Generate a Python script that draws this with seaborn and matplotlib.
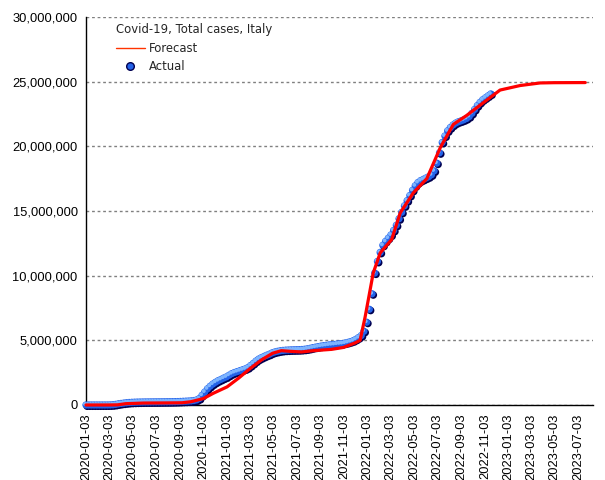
import matplotlib
matplotlib.use("Agg")
import matplotlib.pyplot as plt
import matplotlib.transforms as mtransforms
from matplotlib.lines import Line2D
from matplotlib.ticker import FuncFormatter
import pandas as pd
import seaborn as sns

# weekly actual totals (millions), starting 2020-01-03
actual_start = "2020-01-03"
actual_mln = [
    0, 0, 0, 0, 0, 0, 0, 0, 0.001, 0.005,
    0.018, 0.047, 0.086, 0.12, 0.147, 0.172, 0.193, 0.207, 0.217, 0.224,
    0.228, 0.232, 0.235, 0.236, 0.238, 0.240, 0.241, 0.242, 0.244, 0.246,
    0.248, 0.250, 0.253, 0.258, 0.265, 0.274, 0.284, 0.295, 0.306, 0.317,
    0.344, 0.392, 0.50, 0.75, 1.00, 1.25, 1.45, 1.62, 1.76, 1.88,
    1.98, 2.08, 2.17, 2.30, 2.42, 2.51, 2.58, 2.65, 2.72, 2.79,
    2.89, 3.05, 3.22, 3.40, 3.55, 3.66, 3.76, 3.85, 3.93, 4.03,
    4.10, 4.15, 4.19, 4.22, 4.24, 4.25, 4.26, 4.265, 4.27, 4.275,
    4.29, 4.31, 4.34, 4.38, 4.43, 4.47, 4.51, 4.55, 4.58, 4.61,
    4.64, 4.66, 4.68, 4.71, 4.73, 4.75, 4.79, 4.84, 4.90, 4.97,
    5.08, 5.21, 5.37, 5.70, 6.40, 7.40, 8.60, 10.20, 11.10, 11.80,
    12.35, 12.65, 12.90, 13.15, 13.50, 13.90, 14.40, 14.90, 15.40, 15.80,
    16.20, 16.60, 16.95, 17.20, 17.35, 17.45, 17.55, 17.65, 17.80, 18.10,
    18.70, 19.50, 20.30, 20.80, 21.20, 21.45, 21.65, 21.80, 21.90, 21.97,
    22.05, 22.15, 22.30, 22.55, 22.85, 23.15, 23.40, 23.60, 23.75, 23.90,
    24.05,
]

forecast_dates = [
    "2020-01-03", "2020-02-01", "2020-03-01", "2020-03-25", "2020-04-15",
    "2020-06-01", "2020-08-01", "2020-09-08", "2020-10-01", "2020-11-03",
    "2020-11-28", "2021-01-03", "2021-02-03", "2021-03-03", "2021-04-03",
    "2021-05-01", "2021-05-24", "2021-06-15", "2021-07-15", "2021-08-15",
    "2021-10-01", "2021-11-01", "2021-12-01", "2021-12-14", "2021-12-27",
    "2022-01-09", "2022-01-17", "2022-02-04", "2022-03-06", "2022-03-28",
    "2022-05-01", "2022-06-05", "2022-07-10", "2022-08-13", "2022-09-17",
    "2022-10-22", "2022-12-12", "2023-02-02", "2023-03-26", "2023-05-01",
    "2023-07-21",
]
forecast_mln = [
    0, 0, 0, 0.01, 0.10,
    0.15, 0.16, 0.17, 0.25, 0.50,
    0.90, 1.40, 2.10, 2.80, 3.50,
    4.00, 4.20, 4.15, 4.10, 4.20,
    4.30, 4.45, 4.80, 5.00, 6.80,
    8.90, 10.20, 11.75, 12.80, 14.85,
    16.40, 17.50, 19.90, 21.70, 22.40,
    23.20, 24.35, 24.70, 24.90, 24.92,
    24.93,
]

tick_labels = [
    "2020-01-03", "2020-03-03", "2020-05-03", "2020-07-03", "2020-09-03",
    "2020-11-03", "2021-01-03", "2021-03-03", "2021-05-03", "2021-07-03",
    "2021-09-03", "2021-11-03", "2022-01-03", "2022-03-03", "2022-05-03",
    "2022-07-03", "2022-09-03", "2022-11-03", "2023-01-03", "2023-03-03",
    "2023-05-03", "2023-07-03",
]

sns.set_style("white")
plt.rcParams["font.family"] = ["Liberation Sans", "DejaVu Sans"]

actual = pd.DataFrame({
    "date": pd.date_range(actual_start, periods=len(actual_mln), freq="7D"),
    "cases": [v * 1e6 for v in actual_mln],
})
forecast = pd.DataFrame({
    "date": pd.to_datetime(forecast_dates),
    "cases": [v * 1e6 for v in forecast_mln],
})

fig = plt.figure(figsize=(6.05, 4.8), dpi=100)
ax = fig.add_axes([0.1421, 0.1563, 0.838, 0.8083])

# shaded "ball" markers: shadow, body, highlight
shadow = mtransforms.offset_copy(ax.transData, fig=fig, x=0.9, y=-0.9, units="points")
light = mtransforms.offset_copy(ax.transData, fig=fig, x=-0.7, y=0.7, units="points")
sns.scatterplot(data=actual, x="date", y="cases", ax=ax, s=30, color="#000050",
                edgecolor="none", transform=shadow, clip_on=False, zorder=3)
sns.scatterplot(data=actual, x="date", y="cases", ax=ax, s=27, color="#2462e8",
                edgecolor="none", clip_on=False, zorder=3)
sns.scatterplot(data=actual, x="date", y="cases", ax=ax, s=8, color="#7db4ff",
                edgecolor="none", transform=light, clip_on=False, zorder=3)

sns.lineplot(data=forecast, x="date", y="cases", ax=ax, color="#ff0000",
             linewidth=2.3, estimator=None, zorder=5, clip_on=False)

ax.set_xlim(pd.Timestamp("2020-01-03"), pd.Timestamp("2023-08-10"))
ax.set_ylim(0, 30e6)
ax.set_yticks(range(0, 30000001, 5000000))
ax.yaxis.set_major_formatter(FuncFormatter(lambda v, p: f"{int(v):,}"))
ax.set_xticks(pd.to_datetime(tick_labels))
ax.set_xticklabels(tick_labels, rotation=90)
ax.tick_params(axis="both", direction="out", length=4, width=1, color="black",
               labelsize=9.3, pad=2, labelcolor="black")
ax.grid(axis="y", color="#808080", linestyle=(0, (2, 2)), linewidth=1)
ax.grid(axis="x", visible=False)
ax.set_axisbelow(True)
ax.set_xlabel("")
ax.set_ylabel("")
for side in ["top", "right"]:
    ax.spines[side].set_visible(False)
for side in ["left", "bottom"]:
    ax.spines[side].set_color("black")
    ax.spines[side].set_linewidth(1)

handles = [
    Line2D([], [], color="#ff3300", lw=1),
    Line2D([], [], marker="o", linestyle="none", markersize=5.5,
           markerfacecolor="#2462e8", markeredgecolor="#000050"),
]
ax.legend(handles, ["Forecast", "Actual"], title="Covid-19, Total cases, Italy",
          loc="upper left", bbox_to_anchor=(0.059, 0.985), frameon=False,
          prop={"family": "DejaVu Sans", "size": 8.4},
          title_fontproperties={"family": "DejaVu Sans", "size": 8.4},
          alignment="left", handlelength=2.5, handletextpad=0.3,
          labelspacing=0.5, borderaxespad=0, borderpad=0)

fig.savefig("out.png", dpi=100)
